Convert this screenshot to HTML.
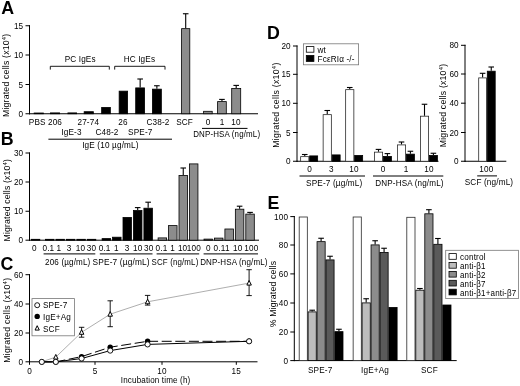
<!DOCTYPE html>
<html><head><meta charset="utf-8"><title>Figure</title>
<style>html,body{margin:0;padding:0;background:#fff}svg{display:block;filter:grayscale(1)}text{font-family:"Liberation Sans",sans-serif;fill:#000;letter-spacing:0.15px}</style>
</head><body>
<svg width="520" height="386" viewBox="0 0 520 386">
<rect width="520" height="386" fill="#fff"/>
<text x="1.2" y="13.75" font-size="17.8" text-anchor="start" font-weight="bold" >A</text>
<text x="0.7" y="145.25" font-size="17.8" text-anchor="start" font-weight="bold" >B</text>
<text x="0.5" y="270.3" font-size="17.8" text-anchor="start" font-weight="bold" >C</text>
<text x="266.9" y="38.75" font-size="17.8" text-anchor="start" font-weight="bold" >D</text>
<text x="267.5" y="209.4" font-size="17.8" text-anchor="start" font-weight="bold" >E</text>
<line x1="29.5" y1="25.25" x2="29.5" y2="114.25" stroke="#000" stroke-width="1" />
<line x1="25.5" y1="25.75" x2="30.0" y2="25.75" stroke="#000" stroke-width="1" />
<text x="23.3" y="28.75" font-size="8.2" text-anchor="end" font-weight="normal" >15</text>
<line x1="25.5" y1="55" x2="30.0" y2="55" stroke="#000" stroke-width="1" />
<text x="23.3" y="58.0" font-size="8.2" text-anchor="end" font-weight="normal" >10</text>
<line x1="25.5" y1="84.5" x2="30.0" y2="84.5" stroke="#000" stroke-width="1" />
<text x="23.3" y="87.5" font-size="8.2" text-anchor="end" font-weight="normal" >5</text>
<line x1="25.5" y1="113.75" x2="30.0" y2="113.75" stroke="#000" stroke-width="1" />
<text x="23.3" y="116.75" font-size="8.2" text-anchor="end" font-weight="normal" >0</text>
<line x1="29" y1="113.75" x2="258" y2="113.75" stroke="#000" stroke-width="1" />
<text transform="translate(9.2,75.3) rotate(-90)" font-size="8.7" text-anchor="middle" textLength="83.4" lengthAdjust="spacing">Migrated cells (x10<tspan font-size="6" dy="-3">4</tspan><tspan dy="3">)</tspan></text>
<rect x="34.15" y="113.00" width="9.20" height="0.75" fill="#000" stroke="#000" stroke-width="0.8"/>
<rect x="50.40" y="112.90" width="9.20" height="0.85" fill="#000" stroke="#000" stroke-width="0.8"/>
<rect x="67.90" y="112.90" width="8.70" height="0.85" fill="#000" stroke="#000" stroke-width="0.8"/>
<rect x="84.15" y="111.70" width="9.20" height="2.05" fill="#000" stroke="#000" stroke-width="0.8"/>
<rect x="101.65" y="107.40" width="8.70" height="6.35" fill="#000" stroke="#000" stroke-width="0.8"/>
<rect x="119.15" y="91.15" width="8.45" height="22.60" fill="#000" stroke="#000" stroke-width="0.8"/>
<line x1="140.15" y1="87.5" x2="140.15" y2="79" stroke="#000" stroke-width="1.1" />
<line x1="137.35" y1="79" x2="142.95000000000002" y2="79" stroke="#000" stroke-width="1.1" />
<rect x="135.70" y="87.90" width="8.90" height="25.85" fill="#000" stroke="#000" stroke-width="0.8"/>
<line x1="156.875" y1="88.75" x2="156.875" y2="85.75" stroke="#000" stroke-width="1.1" />
<line x1="154.075" y1="85.75" x2="159.675" y2="85.75" stroke="#000" stroke-width="1.1" />
<rect x="152.40" y="89.15" width="8.95" height="24.60" fill="#000" stroke="#000" stroke-width="0.8"/>
<line x1="185.7" y1="28.25" x2="185.7" y2="13.75" stroke="#000" stroke-width="1.1" />
<line x1="182.89999999999998" y1="13.75" x2="188.5" y2="13.75" stroke="#000" stroke-width="1.1" />
<rect x="181.60" y="28.65" width="8.20" height="85.10" fill="#8c8c8c" stroke="#000" stroke-width="0.8"/>
<rect x="203.60" y="111.30" width="8.60" height="2.45" fill="#8c8c8c" stroke="#000" stroke-width="0.8"/>
<line x1="221.95" y1="101.2" x2="221.95" y2="99.4" stroke="#000" stroke-width="1.1" />
<line x1="219.14999999999998" y1="99.4" x2="224.75" y2="99.4" stroke="#000" stroke-width="1.1" />
<rect x="217.60" y="101.60" width="8.70" height="12.15" fill="#8c8c8c" stroke="#000" stroke-width="0.8"/>
<line x1="236.2" y1="88" x2="236.2" y2="85.4" stroke="#000" stroke-width="1.1" />
<line x1="233.39999999999998" y1="85.4" x2="239.0" y2="85.4" stroke="#000" stroke-width="1.1" />
<rect x="231.70" y="88.40" width="9.00" height="25.35" fill="#8c8c8c" stroke="#000" stroke-width="0.8"/>
<text x="37.2" y="125.4" font-size="8.2" text-anchor="middle" font-weight="normal" >PBS</text>
<text x="55" y="125.4" font-size="8.2" text-anchor="middle" font-weight="normal" >206</text>
<text x="88.3" y="125.4" font-size="8.2" text-anchor="middle" font-weight="normal" >27-74</text>
<text x="123" y="125.4" font-size="8.2" text-anchor="middle" font-weight="normal" >26</text>
<text x="158" y="125.4" font-size="8.2" text-anchor="middle" font-weight="normal" >C38-2</text>
<text x="184.6" y="125.4" font-size="8.2" text-anchor="middle" font-weight="normal" >SCF</text>
<text x="208" y="125.4" font-size="8.2" text-anchor="middle" font-weight="normal" >0</text>
<text x="222.2" y="125.4" font-size="8.2" text-anchor="middle" font-weight="normal" >1</text>
<text x="236" y="125.4" font-size="8.2" text-anchor="middle" font-weight="normal" >10</text>
<text x="71.5" y="134.9" font-size="8.2" text-anchor="middle" font-weight="normal" >IgE-3</text>
<text x="107" y="134.9" font-size="8.2" text-anchor="middle" font-weight="normal" >C48-2</text>
<text x="140.3" y="134.9" font-size="8.2" text-anchor="middle" font-weight="normal" >SPE-7</text>
<line x1="48.4" y1="139.2" x2="172" y2="139.2" stroke="#000" stroke-width="1" />
<text x="110.4" y="148.2" font-size="8.2" text-anchor="middle" font-weight="normal" >IgE (10 µg/mL)</text>
<line x1="202" y1="128.4" x2="247.5" y2="128.4" stroke="#000" stroke-width="1" />
<text x="226.7" y="137.4" font-size="8.2" text-anchor="middle" font-weight="normal"  textLength="67" lengthAdjust="spacingAndGlyphs">DNP-HSA (ng/mL)</text>
<path d="M50.3 69.6V66.3H109.3V69.6" fill="none" stroke="#000" stroke-width="0.9"/>
<path d="M114.7 69.6V66.3H165V69.6" fill="none" stroke="#000" stroke-width="0.9"/>
<text x="80.2" y="61.8" font-size="8.2" text-anchor="middle" font-weight="normal" >PC IgEs</text>
<text x="139.4" y="61.8" font-size="8.2" text-anchor="middle" font-weight="normal" >HC IgEs</text>
<line x1="29.5" y1="152.5" x2="29.5" y2="240.7" stroke="#000" stroke-width="1" />
<line x1="25.5" y1="153" x2="30.0" y2="153" stroke="#000" stroke-width="1" />
<text x="23.3" y="156.0" font-size="8.2" text-anchor="end" font-weight="normal" >30</text>
<line x1="25.5" y1="182" x2="30.0" y2="182" stroke="#000" stroke-width="1" />
<text x="23.3" y="185.0" font-size="8.2" text-anchor="end" font-weight="normal" >20</text>
<line x1="25.5" y1="211.25" x2="30.0" y2="211.25" stroke="#000" stroke-width="1" />
<text x="23.3" y="214.25" font-size="8.2" text-anchor="end" font-weight="normal" >10</text>
<line x1="25.5" y1="240.2" x2="30.0" y2="240.2" stroke="#000" stroke-width="1" />
<text x="23.3" y="243.2" font-size="8.2" text-anchor="end" font-weight="normal" >0</text>
<line x1="29" y1="240.2" x2="259" y2="240.2" stroke="#000" stroke-width="1" />
<text transform="translate(9.6,200.2) rotate(-90)" font-size="8.7" text-anchor="middle" textLength="82.5" lengthAdjust="spacing">Migrated cells (x10<tspan font-size="6" dy="-3">4</tspan><tspan dy="3">)</tspan></text>
<rect x="31.30" y="239.30" width="8.50" height="0.90" fill="#000" stroke="#000" stroke-width="0.8"/>
<rect x="45.50" y="239.30" width="8.50" height="0.90" fill="#000" stroke="#000" stroke-width="0.8"/>
<rect x="55.95" y="239.30" width="8.50" height="0.90" fill="#000" stroke="#000" stroke-width="0.8"/>
<rect x="66.40" y="239.30" width="8.50" height="0.90" fill="#000" stroke="#000" stroke-width="0.8"/>
<rect x="76.85" y="239.30" width="8.50" height="0.90" fill="#000" stroke="#000" stroke-width="0.8"/>
<rect x="87.30" y="239.30" width="8.50" height="0.90" fill="#000" stroke="#000" stroke-width="0.8"/>
<rect x="102.10" y="238.60" width="8.50" height="1.60" fill="#000" stroke="#000" stroke-width="0.8"/>
<rect x="112.55" y="237.20" width="8.50" height="3.00" fill="#000" stroke="#000" stroke-width="0.8"/>
<rect x="123.00" y="217.40" width="8.50" height="22.80" fill="#000" stroke="#000" stroke-width="0.8"/>
<line x1="137.70000000000002" y1="210.1" x2="137.70000000000002" y2="207.6" stroke="#000" stroke-width="1.1" />
<line x1="134.9" y1="207.6" x2="140.50000000000003" y2="207.6" stroke="#000" stroke-width="1.1" />
<rect x="133.45" y="210.50" width="8.50" height="29.70" fill="#000" stroke="#000" stroke-width="0.8"/>
<line x1="148.15" y1="207.8" x2="148.15" y2="202.2" stroke="#000" stroke-width="1.1" />
<line x1="145.35" y1="202.2" x2="150.95000000000002" y2="202.2" stroke="#000" stroke-width="1.1" />
<rect x="143.90" y="208.20" width="8.50" height="32.00" fill="#000" stroke="#000" stroke-width="0.8"/>
<rect x="158.10" y="237.90" width="8.50" height="2.30" fill="#8c8c8c" stroke="#000" stroke-width="0.8"/>
<rect x="168.55" y="225.60" width="8.50" height="14.60" fill="#8c8c8c" stroke="#000" stroke-width="0.8"/>
<line x1="183.25" y1="175" x2="183.25" y2="168" stroke="#000" stroke-width="1.1" />
<line x1="180.45" y1="168" x2="186.05" y2="168" stroke="#000" stroke-width="1.1" />
<rect x="179.00" y="175.40" width="8.50" height="64.80" fill="#8c8c8c" stroke="#000" stroke-width="0.8"/>
<rect x="189.45" y="163.90" width="8.50" height="76.30" fill="#8c8c8c" stroke="#000" stroke-width="0.8"/>
<rect x="204.00" y="239.10" width="8.50" height="1.10" fill="#8c8c8c" stroke="#000" stroke-width="0.8"/>
<rect x="214.45" y="238.10" width="8.50" height="2.10" fill="#8c8c8c" stroke="#000" stroke-width="0.8"/>
<rect x="224.90" y="229.00" width="8.50" height="11.20" fill="#8c8c8c" stroke="#000" stroke-width="0.8"/>
<line x1="239.6" y1="208.8" x2="239.6" y2="206.2" stroke="#000" stroke-width="1.1" />
<line x1="236.79999999999998" y1="206.2" x2="242.4" y2="206.2" stroke="#000" stroke-width="1.1" />
<rect x="235.35" y="209.20" width="8.50" height="31.00" fill="#8c8c8c" stroke="#000" stroke-width="0.8"/>
<line x1="250.04999999999998" y1="213.7" x2="250.04999999999998" y2="212.4" stroke="#000" stroke-width="1.1" />
<line x1="247.24999999999997" y1="212.4" x2="252.85" y2="212.4" stroke="#000" stroke-width="1.1" />
<rect x="245.80" y="214.10" width="8.50" height="26.10" fill="#8c8c8c" stroke="#000" stroke-width="0.8"/>
<text x="34.3" y="251.4" font-size="8.2" text-anchor="middle" font-weight="normal" >0</text>
<text x="48.4" y="251.4" font-size="8.2" text-anchor="middle" font-weight="normal" >0.1</text>
<text x="58.8" y="251.4" font-size="8.2" text-anchor="middle" font-weight="normal" >1</text>
<text x="69" y="251.4" font-size="8.2" text-anchor="middle" font-weight="normal" >3</text>
<text x="80.4" y="251.4" font-size="8.2" text-anchor="middle" font-weight="normal" >10</text>
<text x="91.4" y="251.4" font-size="8.2" text-anchor="middle" font-weight="normal" >30</text>
<text x="104.6" y="251.4" font-size="8.2" text-anchor="middle" font-weight="normal" >0.1</text>
<text x="116.4" y="251.4" font-size="8.2" text-anchor="middle" font-weight="normal" >1</text>
<text x="127.2" y="251.4" font-size="8.2" text-anchor="middle" font-weight="normal" >3</text>
<text x="137.7" y="251.4" font-size="8.2" text-anchor="middle" font-weight="normal" >10</text>
<text x="148.8" y="251.4" font-size="8.2" text-anchor="middle" font-weight="normal" >30</text>
<text x="161.5" y="251.4" font-size="8.2" text-anchor="middle" font-weight="normal" >0.1</text>
<text x="172.7" y="251.4" font-size="8.2" text-anchor="middle" font-weight="normal" >1</text>
<text x="182.6" y="251.4" font-size="8.2" text-anchor="middle" font-weight="normal" >10</text>
<text x="193.9" y="251.4" font-size="8.2" text-anchor="middle" font-weight="normal" >100</text>
<text x="208.3" y="251.4" font-size="8.2" text-anchor="middle" font-weight="normal" >0</text>
<text x="219.5" y="251.4" font-size="8.2" text-anchor="middle" font-weight="normal" >0.1</text>
<text x="227.4" y="251.4" font-size="8.2" text-anchor="middle" font-weight="normal" >1</text>
<text x="237.8" y="251.4" font-size="8.2" text-anchor="middle" font-weight="normal" >10</text>
<text x="251.3" y="251.4" font-size="8.2" text-anchor="middle" font-weight="normal" >100</text>
<line x1="43.6" y1="253.9" x2="95.3" y2="253.9" stroke="#000" stroke-width="1" />
<line x1="99.8" y1="253.9" x2="152.5" y2="253.9" stroke="#000" stroke-width="1" />
<line x1="156.6" y1="253.9" x2="199.2" y2="253.9" stroke="#000" stroke-width="1" />
<line x1="203.6" y1="253.9" x2="258" y2="253.9" stroke="#000" stroke-width="1" />
<text x="67.75" y="264.9" font-size="8.2" text-anchor="middle" font-weight="normal"  textLength="45.3" lengthAdjust="spacingAndGlyphs">206 (µg/mL)</text>
<text x="121.1" y="264.9" font-size="8.2" text-anchor="middle" font-weight="normal"  textLength="57.1" lengthAdjust="spacingAndGlyphs">SPE-7 (µg/mL)</text>
<text x="175" y="264.9" font-size="8.2" text-anchor="middle" font-weight="normal"  textLength="46.9" lengthAdjust="spacingAndGlyphs">SCF (ng/mL)</text>
<text x="233.9" y="265.1" font-size="8.2" text-anchor="middle" font-weight="normal"  textLength="67.5" lengthAdjust="spacingAndGlyphs">DNP-HSA (ng/mL)</text>
<line x1="29.5" y1="274.2" x2="29.5" y2="362.3" stroke="#000" stroke-width="1" />
<line x1="25.5" y1="274.7" x2="30.0" y2="274.7" stroke="#000" stroke-width="1" />
<text x="23.3" y="277.7" font-size="8.2" text-anchor="end" font-weight="normal" >60</text>
<line x1="25.5" y1="304" x2="30.0" y2="304" stroke="#000" stroke-width="1" />
<text x="23.3" y="307.0" font-size="8.2" text-anchor="end" font-weight="normal" >40</text>
<line x1="25.5" y1="333" x2="30.0" y2="333" stroke="#000" stroke-width="1" />
<text x="23.3" y="336.0" font-size="8.2" text-anchor="end" font-weight="normal" >20</text>
<line x1="25.5" y1="361.8" x2="30.0" y2="361.8" stroke="#000" stroke-width="1" />
<text x="23.3" y="364.8" font-size="8.2" text-anchor="end" font-weight="normal" >0</text>
<line x1="29" y1="361.8" x2="257.5" y2="361.8" stroke="#000" stroke-width="1" />
<line x1="29.5" y1="361.8" x2="29.5" y2="364.8" stroke="#000" stroke-width="1" />
<text x="29.5" y="374" font-size="8.2" text-anchor="middle" font-weight="normal" >0</text>
<line x1="95" y1="361.8" x2="95" y2="364.8" stroke="#000" stroke-width="1" />
<text x="95" y="374" font-size="8.2" text-anchor="middle" font-weight="normal" >5</text>
<line x1="162" y1="361.8" x2="162" y2="364.8" stroke="#000" stroke-width="1" />
<text x="162" y="374" font-size="8.2" text-anchor="middle" font-weight="normal" >10</text>
<line x1="236.3" y1="361.8" x2="236.3" y2="364.8" stroke="#000" stroke-width="1" />
<text x="236.3" y="374" font-size="8.2" text-anchor="middle" font-weight="normal" >15</text>
<text x="155.6" y="382.6" font-size="8.2" text-anchor="middle" font-weight="normal"  textLength="69.6" lengthAdjust="spacingAndGlyphs">Incubation time (h)</text>
<text transform="translate(9.6,320.3) rotate(-90)" font-size="8.7" text-anchor="middle" textLength="85" lengthAdjust="spacing">Migrated cells (x10<tspan font-size="6" dy="-3">4</tspan><tspan dy="3">)</tspan></text>
<polyline fill="none" stroke="#999" stroke-width="0.8" points="41.8,361.8 55.8,357.1 81.6,332.3 110.2,314.2 147.6,301.8 249.1,283.1"/>
<polyline fill="none" stroke="#000" stroke-width="1" stroke-dasharray="10 3.6" points="41.8,361.9 55.8,361.9 81.6,356.6 110.2,347.2 147.6,341.3 249.1,341.3"/>
<polyline fill="none" stroke="#000" stroke-width="1" points="41.8,361.9 55.8,361.9 81.6,358.5 110.2,350.6 147.6,344.4 249.1,341.3"/>
<line x1="81.6" y1="327.3" x2="81.6" y2="337.2" stroke="#000" stroke-width="0.9" />
<line x1="78.89999999999999" y1="327.3" x2="84.3" y2="327.3" stroke="#000" stroke-width="0.9" />
<line x1="78.89999999999999" y1="337.2" x2="84.3" y2="337.2" stroke="#000" stroke-width="0.9" />
<line x1="110.2" y1="300.8" x2="110.2" y2="326.7" stroke="#000" stroke-width="0.9" />
<line x1="107.5" y1="300.8" x2="112.9" y2="300.8" stroke="#000" stroke-width="0.9" />
<line x1="107.5" y1="326.7" x2="112.9" y2="326.7" stroke="#000" stroke-width="0.9" />
<line x1="147.6" y1="295.4" x2="147.6" y2="305.1" stroke="#000" stroke-width="0.9" />
<line x1="144.9" y1="295.4" x2="150.29999999999998" y2="295.4" stroke="#000" stroke-width="0.9" />
<line x1="144.9" y1="305.1" x2="150.29999999999998" y2="305.1" stroke="#000" stroke-width="0.9" />
<line x1="249.1" y1="269.7" x2="249.1" y2="295.6" stroke="#000" stroke-width="0.9" />
<line x1="246.4" y1="269.7" x2="251.79999999999998" y2="269.7" stroke="#000" stroke-width="0.9" />
<line x1="246.4" y1="295.6" x2="251.79999999999998" y2="295.6" stroke="#000" stroke-width="0.9" />
<path d="M55.8 354.45000000000005L58.052499999999995 359.08750000000003H53.5475Z" fill="#fff" stroke="#000" stroke-width="1"/>
<path d="M81.6 329.65000000000003L83.85249999999999 334.2875H79.3475Z" fill="#fff" stroke="#000" stroke-width="1"/>
<path d="M110.2 311.55L112.4525 316.1875H107.9475Z" fill="#fff" stroke="#000" stroke-width="1"/>
<path d="M147.6 299.15000000000003L149.8525 303.7875H145.3475Z" fill="#fff" stroke="#000" stroke-width="1"/>
<path d="M249.1 280.45000000000005L251.3525 285.08750000000003H246.8475Z" fill="#fff" stroke="#000" stroke-width="1"/>
<circle cx="41.8" cy="361.9" r="2.7" fill="#000"/>
<circle cx="55.8" cy="361.9" r="2.7" fill="#000"/>
<circle cx="81.6" cy="356.6" r="2.7" fill="#000"/>
<circle cx="110.2" cy="347.2" r="2.7" fill="#000"/>
<circle cx="147.6" cy="341.3" r="2.7" fill="#000"/>
<circle cx="249.1" cy="341.3" r="2.7" fill="#000"/>
<circle cx="41.8" cy="361.9" r="2.6" fill="#fff" stroke="#000" stroke-width="0.9"/>
<circle cx="55.8" cy="361.9" r="2.6" fill="#fff" stroke="#000" stroke-width="0.9"/>
<circle cx="81.6" cy="358.5" r="2.6" fill="#fff" stroke="#000" stroke-width="0.9"/>
<circle cx="110.2" cy="350.6" r="2.6" fill="#fff" stroke="#000" stroke-width="0.9"/>
<circle cx="147.6" cy="344.4" r="2.6" fill="#fff" stroke="#000" stroke-width="0.9"/>
<circle cx="249.1" cy="341.3" r="2.6" fill="#fff" stroke="#000" stroke-width="0.9"/>
<rect x="32" y="298.6" width="42.4" height="37.2" fill="#fff" stroke="#777" stroke-width="0.8"/>
<circle cx="37.2" cy="305.2" r="2.5" fill="#fff" stroke="#000" stroke-width="0.9"/>
<circle cx="37.2" cy="316.4" r="2.7" fill="#000"/>
<path d="M37.2 325.7L39.325 330.075H35.075Z" fill="#fff" stroke="#000" stroke-width="1"/>
<text x="43" y="308.4" font-size="8.2" text-anchor="start" font-weight="normal" >SPE-7</text>
<text x="43" y="319.8" font-size="8.2" text-anchor="start" font-weight="normal" >IgE+Ag</text>
<text x="43" y="331.5" font-size="8.2" text-anchor="start" font-weight="normal" >SCF</text>
<line x1="297" y1="45.5" x2="297" y2="161.75" stroke="#000" stroke-width="1" />
<line x1="293" y1="46" x2="297.5" y2="46" stroke="#000" stroke-width="1" />
<text x="290.8" y="49.0" font-size="8.2" text-anchor="end" font-weight="normal" >20</text>
<line x1="293" y1="74.3" x2="297.5" y2="74.3" stroke="#000" stroke-width="1" />
<text x="290.8" y="77.3" font-size="8.2" text-anchor="end" font-weight="normal" >15</text>
<line x1="293" y1="103.3" x2="297.5" y2="103.3" stroke="#000" stroke-width="1" />
<text x="290.8" y="106.3" font-size="8.2" text-anchor="end" font-weight="normal" >10</text>
<line x1="293" y1="132.5" x2="297.5" y2="132.5" stroke="#000" stroke-width="1" />
<text x="290.8" y="135.5" font-size="8.2" text-anchor="end" font-weight="normal" >5</text>
<line x1="293" y1="161.25" x2="297.5" y2="161.25" stroke="#000" stroke-width="1" />
<text x="290.8" y="164.25" font-size="8.2" text-anchor="end" font-weight="normal" >0</text>
<line x1="296.5" y1="161.25" x2="438.5" y2="161.25" stroke="#000" stroke-width="1" />
<text transform="translate(279.2,105.1) rotate(-90)" font-size="8.7" text-anchor="middle" textLength="85.3" lengthAdjust="spacing">Migrated cells (x10<tspan font-size="6" dy="-3">4</tspan><tspan dy="3">)</tspan></text>
<line x1="304.75" y1="156.25" x2="304.75" y2="154.5" stroke="#000" stroke-width="1.1" />
<line x1="301.95" y1="154.5" x2="307.55" y2="154.5" stroke="#000" stroke-width="1.1" />
<rect x="300.65" y="156.65" width="8.20" height="4.60" fill="#fff" stroke="#2a2a2a" stroke-width="0.8"/>
<rect x="309.65" y="155.90" width="8.00" height="5.35" fill="#000" stroke="#000" stroke-width="0.8"/>
<line x1="327.25" y1="114.25" x2="327.25" y2="110.5" stroke="#000" stroke-width="1.1" />
<line x1="324.45" y1="110.5" x2="330.05" y2="110.5" stroke="#000" stroke-width="1.1" />
<rect x="323.15" y="114.65" width="8.20" height="46.60" fill="#fff" stroke="#2a2a2a" stroke-width="0.8"/>
<rect x="332.15" y="154.90" width="8.00" height="6.35" fill="#000" stroke="#000" stroke-width="0.8"/>
<line x1="349.75" y1="89.25" x2="349.75" y2="87.5" stroke="#000" stroke-width="1.1" />
<line x1="346.95" y1="87.5" x2="352.55" y2="87.5" stroke="#000" stroke-width="1.1" />
<rect x="345.65" y="89.65" width="8.20" height="71.60" fill="#fff" stroke="#2a2a2a" stroke-width="0.8"/>
<rect x="354.65" y="155.40" width="8.00" height="5.85" fill="#000" stroke="#000" stroke-width="0.8"/>
<line x1="378.5" y1="151.75" x2="378.5" y2="149.4" stroke="#000" stroke-width="1.1" />
<line x1="375.7" y1="149.4" x2="381.3" y2="149.4" stroke="#000" stroke-width="1.1" />
<rect x="374.40" y="152.15" width="8.20" height="9.10" fill="#fff" stroke="#2a2a2a" stroke-width="0.8"/>
<line x1="387.4" y1="156" x2="387.4" y2="153.6" stroke="#000" stroke-width="1.1" />
<line x1="384.59999999999997" y1="153.6" x2="390.2" y2="153.6" stroke="#000" stroke-width="1.1" />
<rect x="383.40" y="156.40" width="8.00" height="4.85" fill="#000" stroke="#000" stroke-width="0.8"/>
<line x1="401.5" y1="144.5" x2="401.5" y2="142" stroke="#000" stroke-width="1.1" />
<line x1="398.7" y1="142" x2="404.3" y2="142" stroke="#000" stroke-width="1.1" />
<rect x="397.40" y="144.90" width="8.20" height="16.35" fill="#fff" stroke="#2a2a2a" stroke-width="0.8"/>
<line x1="410.4" y1="153.75" x2="410.4" y2="151.25" stroke="#000" stroke-width="1.1" />
<line x1="407.59999999999997" y1="151.25" x2="413.2" y2="151.25" stroke="#000" stroke-width="1.1" />
<rect x="406.40" y="154.15" width="8.00" height="7.10" fill="#000" stroke="#000" stroke-width="0.8"/>
<line x1="424.5" y1="115.8" x2="424.5" y2="104.25" stroke="#000" stroke-width="1.1" />
<line x1="421.7" y1="104.25" x2="427.3" y2="104.25" stroke="#000" stroke-width="1.1" />
<rect x="420.40" y="116.20" width="8.20" height="45.05" fill="#fff" stroke="#2a2a2a" stroke-width="0.8"/>
<line x1="433.4" y1="155" x2="433.4" y2="153.25" stroke="#000" stroke-width="1.1" />
<line x1="430.59999999999997" y1="153.25" x2="436.2" y2="153.25" stroke="#000" stroke-width="1.1" />
<rect x="429.40" y="155.40" width="8.00" height="5.85" fill="#000" stroke="#000" stroke-width="0.8"/>
<text x="309.5" y="172.3" font-size="8.2" text-anchor="middle" font-weight="normal" >0</text>
<text x="331.3" y="172.3" font-size="8.2" text-anchor="middle" font-weight="normal" >3</text>
<text x="354" y="172.3" font-size="8.2" text-anchor="middle" font-weight="normal" >10</text>
<text x="383.2" y="172.3" font-size="8.2" text-anchor="middle" font-weight="normal" >0</text>
<text x="406.2" y="172.3" font-size="8.2" text-anchor="middle" font-weight="normal" >1</text>
<text x="429" y="172.3" font-size="8.2" text-anchor="middle" font-weight="normal" >10</text>
<line x1="299.5" y1="176" x2="365" y2="176" stroke="#000" stroke-width="1" />
<line x1="373" y1="176" x2="443.3" y2="176" stroke="#000" stroke-width="1" />
<text x="334.25" y="185.5" font-size="8.2" text-anchor="middle" font-weight="normal"  textLength="56.4" lengthAdjust="spacingAndGlyphs">SPE-7 (µg/mL)</text>
<text x="409.5" y="185.5" font-size="8.2" text-anchor="middle" font-weight="normal"  textLength="68.3" lengthAdjust="spacingAndGlyphs">DNP-HSA (ng/mL)</text>
<rect x="303.4" y="43.8" width="55.2" height="21" fill="#fff" stroke="#777" stroke-width="0.8"/>
<rect x="306.3" y="46.6" width="7.6" height="5.6" fill="#fff" stroke="#000" stroke-width="0.8"/>
<rect x="306.3" y="55.5" width="7.6" height="5.9" fill="#000" stroke="#000" stroke-width="0.8"/>
<text x="317.5" y="53" font-size="8.2" text-anchor="start" font-weight="normal" >wt</text>
<text x="317.5" y="62" font-size="8.2" text-anchor="start" font-weight="normal" >FcεRIα -/-</text>
<line x1="465" y1="44.8" x2="465" y2="161.75" stroke="#000" stroke-width="1" />
<line x1="461" y1="45.3" x2="465.5" y2="45.3" stroke="#000" stroke-width="1" />
<text x="458.8" y="48.3" font-size="8.2" text-anchor="end" font-weight="normal" >80</text>
<line x1="461" y1="74" x2="465.5" y2="74" stroke="#000" stroke-width="1" />
<text x="458.8" y="77.0" font-size="8.2" text-anchor="end" font-weight="normal" >60</text>
<line x1="461" y1="103.2" x2="465.5" y2="103.2" stroke="#000" stroke-width="1" />
<text x="458.8" y="106.2" font-size="8.2" text-anchor="end" font-weight="normal" >40</text>
<line x1="461" y1="132.5" x2="465.5" y2="132.5" stroke="#000" stroke-width="1" />
<text x="458.8" y="135.5" font-size="8.2" text-anchor="end" font-weight="normal" >20</text>
<line x1="461" y1="161.25" x2="465.5" y2="161.25" stroke="#000" stroke-width="1" />
<text x="458.8" y="164.25" font-size="8.2" text-anchor="end" font-weight="normal" >0</text>
<line x1="464.5" y1="161.25" x2="506.3" y2="161.25" stroke="#000" stroke-width="1" />
<text transform="translate(445.9,105.5) rotate(-90)" font-size="8.7" text-anchor="middle" textLength="83.5" lengthAdjust="spacing">Migrated cells (x10<tspan font-size="6" dy="-3">4</tspan><tspan dy="3">)</tspan></text>
<line x1="482.6" y1="77.5" x2="482.6" y2="73.3" stroke="#000" stroke-width="1.1" />
<line x1="479.8" y1="73.3" x2="485.40000000000003" y2="73.3" stroke="#000" stroke-width="1.1" />
<rect x="478.70" y="77.90" width="7.80" height="83.35" fill="#fff" stroke="#2a2a2a" stroke-width="0.8"/>
<line x1="491.25" y1="70.8" x2="491.25" y2="67" stroke="#000" stroke-width="1.1" />
<line x1="488.45" y1="67" x2="494.05" y2="67" stroke="#000" stroke-width="1.1" />
<rect x="487.30" y="71.20" width="7.90" height="90.05" fill="#000" stroke="#000" stroke-width="0.8"/>
<text x="486.3" y="172.1" font-size="8.2" text-anchor="middle" font-weight="normal" >100</text>
<line x1="477.2" y1="175.9" x2="497" y2="175.9" stroke="#000" stroke-width="1" />
<text x="489" y="185.3" font-size="8.2" text-anchor="middle" font-weight="normal" >SCF (ng/mL)</text>
<line x1="294.3" y1="216.1" x2="294.3" y2="361.1" stroke="#000" stroke-width="1" />
<line x1="290.3" y1="216.6" x2="294.8" y2="216.6" stroke="#000" stroke-width="1" />
<text x="288.1" y="219.6" font-size="8.2" text-anchor="end" font-weight="normal" >100</text>
<line x1="290.3" y1="245" x2="294.8" y2="245" stroke="#000" stroke-width="1" />
<text x="288.1" y="248.0" font-size="8.2" text-anchor="end" font-weight="normal" >80</text>
<line x1="290.3" y1="273.9" x2="294.8" y2="273.9" stroke="#000" stroke-width="1" />
<text x="288.1" y="276.9" font-size="8.2" text-anchor="end" font-weight="normal" >60</text>
<line x1="290.3" y1="303" x2="294.8" y2="303" stroke="#000" stroke-width="1" />
<text x="288.1" y="306.0" font-size="8.2" text-anchor="end" font-weight="normal" >40</text>
<line x1="290.3" y1="332" x2="294.8" y2="332" stroke="#000" stroke-width="1" />
<text x="288.1" y="335.0" font-size="8.2" text-anchor="end" font-weight="normal" >20</text>
<line x1="290.3" y1="360.6" x2="294.8" y2="360.6" stroke="#000" stroke-width="1" />
<text x="288.1" y="363.6" font-size="8.2" text-anchor="end" font-weight="normal" >0</text>
<line x1="293.8" y1="360.6" x2="456.7" y2="360.6" stroke="#000" stroke-width="1" />
<text transform="translate(276.3,294) rotate(-90)" font-size="8.7" text-anchor="middle" textLength="66.5" lengthAdjust="spacing">% Migrated cells</text>
<rect x="299.20" y="217.00" width="8.12" height="143.60" fill="#fff" stroke="#2a2a2a" stroke-width="0.8"/>
<line x1="312.18" y1="311.5" x2="312.18" y2="310.2" stroke="#000" stroke-width="1.1" />
<line x1="309.38" y1="310.2" x2="314.98" y2="310.2" stroke="#000" stroke-width="1.1" />
<rect x="308.12" y="311.90" width="8.12" height="48.70" fill="#bdbdbd" stroke="#000" stroke-width="0.8"/>
<line x1="321.1" y1="241.25" x2="321.1" y2="238.25" stroke="#000" stroke-width="1.1" />
<line x1="318.3" y1="238.25" x2="323.90000000000003" y2="238.25" stroke="#000" stroke-width="1.1" />
<rect x="317.04" y="241.65" width="8.12" height="118.95" fill="#8c8c8c" stroke="#000" stroke-width="0.8"/>
<line x1="330.02" y1="259.5" x2="330.02" y2="256.25" stroke="#000" stroke-width="1.1" />
<line x1="327.21999999999997" y1="256.25" x2="332.82" y2="256.25" stroke="#000" stroke-width="1.1" />
<rect x="325.96" y="259.90" width="8.12" height="100.70" fill="#5a5a5a" stroke="#000" stroke-width="0.8"/>
<line x1="338.94000000000005" y1="331.25" x2="338.94000000000005" y2="329.25" stroke="#000" stroke-width="1.1" />
<line x1="336.14000000000004" y1="329.25" x2="341.74000000000007" y2="329.25" stroke="#000" stroke-width="1.1" />
<rect x="334.88" y="331.65" width="8.12" height="28.95" fill="#000" stroke="#000" stroke-width="0.8"/>
<rect x="353.15" y="217.00" width="8.15" height="143.60" fill="#fff" stroke="#2a2a2a" stroke-width="0.8"/>
<line x1="366.17499999999995" y1="302.5" x2="366.17499999999995" y2="298.75" stroke="#000" stroke-width="1.1" />
<line x1="363.37499999999994" y1="298.75" x2="368.97499999999997" y2="298.75" stroke="#000" stroke-width="1.1" />
<rect x="362.10" y="302.90" width="8.15" height="57.70" fill="#bdbdbd" stroke="#000" stroke-width="0.8"/>
<line x1="375.125" y1="244.5" x2="375.125" y2="240.75" stroke="#000" stroke-width="1.1" />
<line x1="372.325" y1="240.75" x2="377.925" y2="240.75" stroke="#000" stroke-width="1.1" />
<rect x="371.05" y="244.90" width="8.15" height="115.70" fill="#8c8c8c" stroke="#000" stroke-width="0.8"/>
<line x1="384.07500000000005" y1="252" x2="384.07500000000005" y2="248.25" stroke="#000" stroke-width="1.1" />
<line x1="381.27500000000003" y1="248.25" x2="386.87500000000006" y2="248.25" stroke="#000" stroke-width="1.1" />
<rect x="380.00" y="252.40" width="8.15" height="108.20" fill="#5a5a5a" stroke="#000" stroke-width="0.8"/>
<rect x="388.95" y="307.40" width="8.15" height="53.20" fill="#000" stroke="#000" stroke-width="0.8"/>
<rect x="406.80" y="217.30" width="8.20" height="143.30" fill="#fff" stroke="#2a2a2a" stroke-width="0.8"/>
<line x1="419.9" y1="289.8" x2="419.9" y2="288.5" stroke="#000" stroke-width="1.1" />
<line x1="417.09999999999997" y1="288.5" x2="422.7" y2="288.5" stroke="#000" stroke-width="1.1" />
<rect x="415.80" y="290.20" width="8.20" height="70.40" fill="#bdbdbd" stroke="#000" stroke-width="0.8"/>
<line x1="428.9" y1="213.4" x2="428.9" y2="209.7" stroke="#000" stroke-width="1.1" />
<line x1="426.09999999999997" y1="209.7" x2="431.7" y2="209.7" stroke="#000" stroke-width="1.1" />
<rect x="424.80" y="213.80" width="8.20" height="146.80" fill="#8c8c8c" stroke="#000" stroke-width="0.8"/>
<line x1="437.9" y1="243.9" x2="437.9" y2="238.5" stroke="#000" stroke-width="1.1" />
<line x1="435.09999999999997" y1="238.5" x2="440.7" y2="238.5" stroke="#000" stroke-width="1.1" />
<rect x="433.80" y="244.30" width="8.20" height="116.30" fill="#5a5a5a" stroke="#000" stroke-width="0.8"/>
<rect x="442.80" y="305.00" width="8.20" height="55.60" fill="#000" stroke="#000" stroke-width="0.8"/>
<text x="320.2" y="372.6" font-size="8.2" text-anchor="middle" font-weight="normal" >SPE-7</text>
<text x="375" y="372.6" font-size="8.2" text-anchor="middle" font-weight="normal" >IgE+Ag</text>
<text x="429.4" y="372.6" font-size="8.2" text-anchor="middle" font-weight="normal" >SCF</text>
<rect x="445.7" y="250.3" width="72.7" height="48.3" fill="#fff" stroke="#777" stroke-width="0.8"/>
<rect x="449" y="253.6" width="7.3" height="5.7" fill="#fff" stroke="#000" stroke-width="0.8"/>
<text x="460" y="259.9" font-size="8.2" text-anchor="start" font-weight="normal"  textLength="25.6" lengthAdjust="spacingAndGlyphs">control</text>
<rect x="449" y="262.5" width="7.3" height="5.7" fill="#bdbdbd" stroke="#000" stroke-width="0.8"/>
<text x="460" y="268.8" font-size="8.2" text-anchor="start" font-weight="normal"  textLength="25.6" lengthAdjust="spacingAndGlyphs">anti-β1</text>
<rect x="449" y="271.4" width="7.3" height="5.7" fill="#8c8c8c" stroke="#000" stroke-width="0.8"/>
<text x="460" y="277.7" font-size="8.2" text-anchor="start" font-weight="normal"  textLength="25.6" lengthAdjust="spacingAndGlyphs">anti-β2</text>
<rect x="449" y="280.3" width="7.3" height="5.7" fill="#5a5a5a" stroke="#000" stroke-width="0.8"/>
<text x="460" y="286.6" font-size="8.2" text-anchor="start" font-weight="normal"  textLength="25.6" lengthAdjust="spacingAndGlyphs">anti-β7</text>
<rect x="449" y="289.2" width="7.3" height="5.7" fill="#000" stroke="#000" stroke-width="0.8"/>
<text x="460" y="295.5" font-size="8.2" text-anchor="start" font-weight="normal"  textLength="56.3" lengthAdjust="spacingAndGlyphs">anti-β1+anti-β7</text>
</svg>
</body></html>
